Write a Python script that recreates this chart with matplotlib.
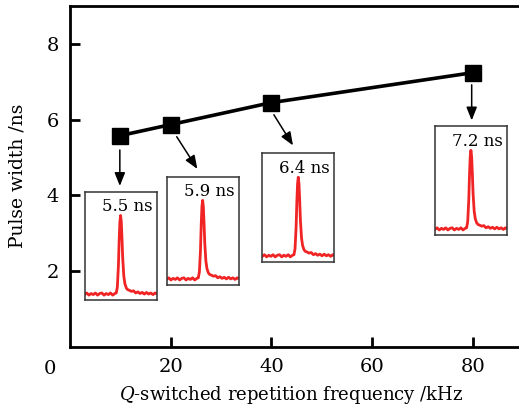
import matplotlib
matplotlib.use('Agg')
import matplotlib.pyplot as plt

# main series
freq_khz = [10, 20, 40, 80]
pulse_width_ns = [5.58, 5.87, 6.45, 7.24]
inset_labels = ['5.5 ns', '5.9 ns', '6.4 ns', '7.2 ns']

# pulse trace shape (fraction of inset box)
trace_x = [0.00, 0.03, 0.06, 0.09, 0.12, 0.15, 0.18, 0.21, 0.24, 0.27, 0.30, 0.33,
           0.36, 0.39, 0.42, 0.44, 0.455, 0.47, 0.48, 0.49, 0.50, 0.51, 0.52, 0.53,
           0.545, 0.56, 0.58, 0.60, 0.62, 0.65, 0.68, 0.71, 0.74, 0.77, 0.80, 0.83,
           0.86, 0.89, 0.92, 0.95, 0.98, 1.00]
trace_y = [0.05, 0.065, 0.045, 0.06, 0.05, 0.065, 0.045, 0.06, 0.065, 0.045, 0.06, 0.05,
           0.065, 0.045, 0.06, 0.065, 0.12, 0.32, 0.55, 0.72, 0.78, 0.72, 0.56, 0.38,
           0.22, 0.15, 0.11, 0.095, 0.09, 0.08, 0.085, 0.065, 0.075, 0.06, 0.07, 0.055,
           0.07, 0.055, 0.065, 0.05, 0.065, 0.06]

# inset boxes (data coords: x0, y0, width, height) and arrows
inset_boxes = [(2.9, 1.24, 14.3, 2.86), (19.2, 1.64, 14.3, 2.86),
               (38.2, 2.25, 14.3, 2.86), (72.5, 2.96, 14.3, 2.86)]
arrows = [((9.9, 5.2), (9.9, 4.25)), ((21.2, 5.55), (25.3, 4.7)),
          ((40.5, 6.13), (44.3, 5.32)), ((79.8, 6.92), (79.8, 5.98))]

plt.rcParams['font.family'] = ['DejaVu Serif']
plt.rcParams['mathtext.fontset'] = 'dejavuserif'

fig = plt.figure(figsize=(5.19, 4.12), dpi=100)
ax = fig.add_axes([70 / 519, 65 / 412, 449 / 519, 341 / 412])

ax.plot(freq_khz, pulse_width_ns, color='black', lw=2.6, marker='s',
        markersize=11.5, zorder=3)

ax.set_xlim(0, 89.2)
ax.set_ylim(0, 9)
ax.set_xticks([20, 40, 60, 80])
ax.set_yticks([2, 4, 6, 8])
ax.tick_params(direction='in', length=7, width=2, labelsize=14, pad=8)
ax.spines['right'].set_visible(False)
for s in ['left', 'bottom', 'top']:
    ax.spines[s].set_linewidth(2)

for (start, end) in arrows:
    ax.annotate('', xy=end, xytext=start,
                arrowprops=dict(arrowstyle='-|>,head_length=0.5,head_width=0.2',
                                color='black', lw=1.1,
                                mutation_scale=16, shrinkA=0, shrinkB=0))

for box, label in zip(inset_boxes, inset_labels):
    iax = ax.inset_axes(box, transform=ax.transData)
    iax.plot(trace_x, trace_y, color='#f02424', lw=2.0)
    iax.set_xlim(0, 1)
    iax.set_ylim(0, 1)
    iax.set_xticks([])
    iax.set_yticks([])
    for s in iax.spines.values():
        s.set_linewidth(1.1)
        s.set_color('#333333')
    iax.text(0.94, 0.94, label, transform=iax.transAxes, ha='right', va='top',
             fontsize=12)

fig.text(50 / 519, 1 - 369 / 412, '0', ha='center', va='center', fontsize=14)
fig.text(18 / 519, 1 - 176 / 412, 'Pulse width /ns', rotation=90,
         ha='center', va='center', fontsize=13.5)
fig.text(291 / 519, 1 - 395 / 412, '$Q$-switched repetition frequency /kHz',
         ha='center', va='center', fontsize=13)

fig.savefig('out.png', dpi=100)
